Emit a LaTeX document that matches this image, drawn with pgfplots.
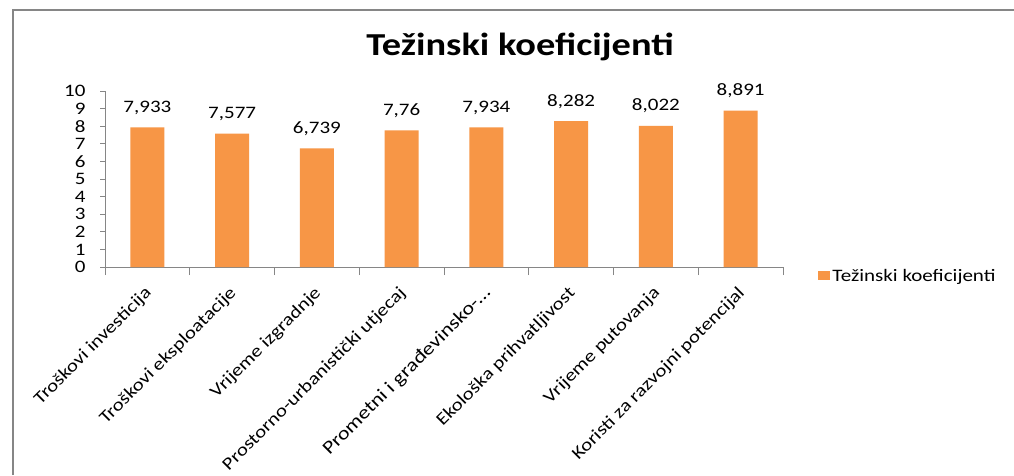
\documentclass[border=0pt]{standalone}
\usepackage{fontspec}
\setmainfont{Carlito}[FakeStretch=1.2]
\usepackage{pgfplots}
\pgfplotsset{compat=1.18}
\definecolor{barorange}{HTML}{F79646}
\definecolor{axgray}{HTML}{868686}
\newcommand{\lf}{\fontsize{17.5}{18}\selectfont}
\begin{document}
\begin{tikzpicture}[x=1pt,y=1pt]
\fill[white] (0pt,0pt) rectangle (1014pt,475pt);
\path[use as bounding box] (0pt,0pt) rectangle (1014pt,475pt);
\draw[axgray, line width=2pt] (13pt,0pt) -- (13pt,464.5pt) -- (1014pt,464.5pt);
\node[font=\fontsize{32}{32}\selectfont\bfseries, anchor=base] at (520pt,419pt) {Težinski koeficijenti};
\begin{axis}[
  at={(105pt,208pt)}, anchor=south west,
  scale only axis, width=678pt, height=176pt,
  xmin=-0.5, xmax=7.5, ymin=0, ymax=10,
  axis x line*=bottom, axis y line*=left,
  axis line style={axgray, line width=0.8pt},
  tick align=outside,
  major tick length=5pt, minor tick length=8pt,
  ytick={0,1,...,10},
  ytick style={axgray, line width=0.8pt},
  yticklabel style={font=\lf, xshift=-11pt},
  xtick={0,1,...,7},
  minor xtick={-0.5,0.5,...,7.5},
  major x tick style={draw=none},
  minor x tick style={axgray, line width=0.8pt},
  xticklabels={Troškovi investicija, Troškovi eksploatacije, Vrijeme izgradnje, Prostorno-urbanistički utjecaj, {\fontsize{18.5}{19}\selectfont Prometni i građevinsko-…}, Ekološka prihvatljivost, Vrijeme putovanja, Koristi za razvojni potencijal},
  xticklabel style={font=\lf, xshift=4pt, yshift=-16pt, rotate=45, anchor=east},
  /pgf/number format/assume math mode=true,
  ybar, bar width=34pt, bar shift=0pt,
  nodes near coords={\pgfmathprintnumber[use comma, fixed, precision=3]{\pgfplotspointmeta}},
  nodes near coords style={font=\lf, anchor=base, yshift=15pt},
  legend style={at={(1.052,-0.05)}, anchor=west, draw=none, fill=none, font=\lf, inner sep=0pt},
  legend image code/.code={\fill[barorange] (0pt,-4.5pt) rectangle (12pt,4.5pt);},
]
\addplot[fill=barorange, draw=none] coordinates {(0,7.933) (1,7.577) (2,6.739) (3,7.76) (4,7.934) (5,8.282) (6,8.022) (7,8.891)};
\addlegendentry{Težinski koeficijenti}
\end{axis}
\end{tikzpicture}
\end{document}
